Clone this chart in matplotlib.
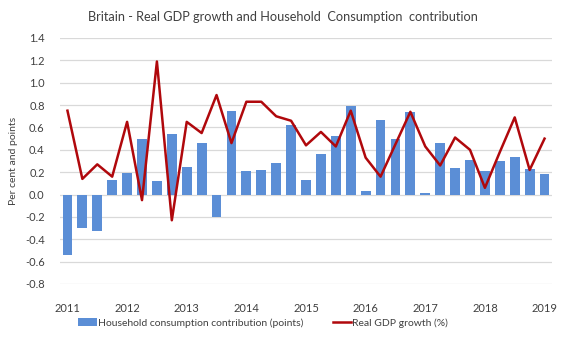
import matplotlib
matplotlib.use("Agg")
import matplotlib.pyplot as plt
from matplotlib.patches import Patch
from matplotlib.lines import Line2D

quarters = [f"{y}Q{q}" for y in range(2011, 2019) for q in range(1, 5)] + ["2019Q1"]
consumption = [-0.54, -0.30, -0.33, 0.13, 0.19, 0.50, 0.12, 0.54,
               0.25, 0.46, -0.20, 0.75, 0.21, 0.22, 0.28, 0.62,
               0.13, 0.36, 0.52, 0.79, 0.03, 0.67, 0.50, 0.74,
               0.01, 0.46, 0.24, 0.31, 0.21, 0.30, 0.34, 0.23, 0.18]
gdp = [0.75, 0.14, 0.27, 0.16, 0.65, -0.05, 1.19, -0.23,
       0.65, 0.55, 0.89, 0.46, 0.83, 0.83, 0.70, 0.66,
       0.44, 0.56, 0.43, 0.75, 0.33, 0.16, 0.45, 0.74,
       0.43, 0.26, 0.51, 0.40, 0.06, 0.38, 0.69, 0.22, 0.50]
year_labels = ["2011", "2012", "2013", "2014", "2015", "2016", "2017", "2018", "2019"]
yticks = [-0.8, -0.6, -0.4, -0.2, 0.0, 0.2, 0.4, 0.6, 0.8, 1.0, 1.2, 1.4]

plt.rcParams['font.family'] = ['Lato', 'DejaVu Sans']

fig = plt.figure(figsize=(5.66, 3.4), dpi=100)
ax = fig.add_axes([60/566, 1-284/340, (552-60)/566, (284-38)/340])

x = list(range(len(quarters)))
bar_color = "#5B8ED6"
line_color = "#B0080C"
ax.bar(x, consumption, width=0.66, color=bar_color, zorder=2)
ax.plot(x, gdp, color=line_color, linewidth=1.8, zorder=3)

ax.set_xlim(-0.5, len(quarters) - 0.5)
ax.set_ylim(-0.8, 1.4)
ax.set_yticks(yticks)
ax.set_yticklabels([f"{v:.1f}" for v in yticks], fontsize=8, color="#404040")
ax.set_xticks(x[::4])
ax.set_xticklabels(year_labels, fontsize=8, color="#404040")
ax.tick_params(axis='both', length=0)
ax.tick_params(axis='x', pad=14)
ax.tick_params(axis='y', pad=11)
ax.grid(axis='y', color="#D9D9D9", linewidth=0.9, zorder=0)
for s in ax.spines.values():
    s.set_visible(False)

ax.set_ylabel("Per cent and points", fontsize=7.5, color="#404040", labelpad=6)
ax.yaxis.set_label_coords(-0.085, 0.5)

fig.text(0.5, 1-17/340, "Britain - Real GDP growth and Household  Consumption  contribution",
         ha='center', va='center', fontsize=9.2, color="#404040")

handles = [Patch(facecolor=bar_color, edgecolor='none'),
           Line2D([0], [0], color=line_color, linewidth=1.8)]
labels = ["Household consumption contribution (points)", "Real GDP growth (%)"]
fig.legend(handles, labels, loc='center', bbox_to_anchor=(0.465, 1-323/340), ncol=2,
           frameon=False, fontsize=7.5, handlelength=1.8, handletextpad=0.1,
           columnspacing=2.8, labelcolor="#404040")

fig.savefig("out.png", dpi=100)
